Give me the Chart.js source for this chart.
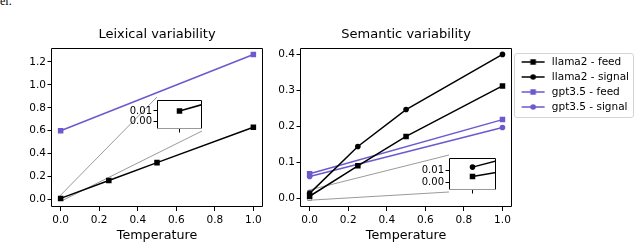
<!DOCTYPE html>
<html>
<head>
<meta charset="utf-8">
<script src="https://cdn.jsdelivr.net/npm/chart.js@4.4.1/dist/chart.umd.min.js"></script>
<style>
body { margin: 0; background: #fff; }
#wrap { position: relative; width: 640px; height: 243px; overflow: hidden; background: #fff; }
canvas { position: absolute; }
#caption { position: absolute; left: 0; top: -5px; font: 12px "Liberation Serif"; line-height: 12px; }
</style>
</head>
<body>
<div id="wrap">
  <div id="caption">el.</div>
  <canvas id="lexChart" width="640" height="243" style="left:0;top:0"></canvas>
  <canvas id="semChart" width="640" height="243" style="left:0;top:0"></canvas>
  <canvas id="lexInset" width="94" height="44" style="left:112px;top:92px"></canvas>
  <canvas id="semInset" width="96" height="47" style="left:404px;top:150px"></canvas>
</div>
<script>
// data
const temps = [0.0, 0.25, 0.5, 1.0];
const gptTemps = [0.0, 1.0];
const xTicks = [0.0, 0.2, 0.4, 0.6, 0.8, 1.0];
const lexTicks = [0.0, 0.2, 0.4, 0.6, 0.8, 1.0, 1.2];
const semTicks = [0.0, 0.1, 0.2, 0.3, 0.4];
const insetTicks = [0.00, 0.01];
const seriesNames = ['llama2 - feed', 'llama2 - signal', 'gpt3.5 - feed', 'gpt3.5 - signal'];

// Leixical variability
const lexLlamaFeed = [0.01, 0.166, 0.322, 0.63];
const lexGptFeed = [0.60, 1.265];

// Semantic variability
const semLlamaFeed = [0.005, 0.09, 0.172, 0.313];
const semLlamaSignal = [0.013, 0.144, 0.247, 0.401];
const semGptFeed = [0.068, 0.219];
const semGptSignal = [0.06, 0.197];

const BLACK = '#000000';
const PURPLE = '#6a5acd';

Chart.defaults.font.family = '"DejaVu Sans", sans-serif';
Chart.defaults.color = '#000';
Chart.defaults.animation = false;

function pts(xs, ys) {
    return xs.map((x, i) => ({ x: x, y: ys[i] }));
}

function series(label, xs, ys, color, marker) {
    return {
        label: label,
        data: pts(xs, ys),
        borderColor: color,
        backgroundColor: color,
        borderWidth: 1.5,
        pointStyle: marker,
        pointRadius: marker === 'rect' ? 3.9 : 2.8,
        pointBorderWidth: 0,
        tension: 0
    };
}

// small picture for the legend: line with marker in the middle
function legendIcon(color, marker) {
    const c = document.createElement('canvas');
    c.width = 30; c.height = 10;
    const g = c.getContext('2d');
    g.strokeStyle = color; g.fillStyle = color; g.lineWidth = 1.5;
    g.beginPath(); g.moveTo(5, 5); g.lineTo(28, 5); g.stroke();
    if (marker === 'rect') {
        g.fillRect(13.75, 2.25, 5.5, 5.5);
    } else {
        g.beginPath(); g.arc(16.5, 5, 2.8, 0, Math.PI * 2); g.fill();
    }
    return c;
}

// box around the plotting area (matplotlib spines)
const framePlugin = {
    id: 'frame',
    beforeDraw(chart, args, opts) {
        if (!opts.fill) return;
        const a = chart.chartArea;
        chart.ctx.save();
        chart.ctx.fillStyle = opts.fill;
        chart.ctx.fillRect(a.left, a.top, a.right - a.left, a.bottom - a.top);
        chart.ctx.restore();
    },
    afterDraw(chart, args, opts) {
        const a = chart.chartArea, ctx = chart.ctx;
        const l = Math.round(a.left) + 0.5, r = Math.round(a.right) - 0.5;
        const t = Math.round(a.top) + 0.5, b = Math.round(a.bottom) - 0.5;
        ctx.save();
        ctx.lineWidth = 1;
        ctx.strokeStyle = BLACK;
        ctx.beginPath();
        ctx.moveTo(l, b); ctx.lineTo(l, t); ctx.lineTo(r, t); ctx.lineTo(r, b);
        ctx.stroke();
        ctx.strokeStyle = opts.bottomColor || BLACK;
        ctx.beginPath(); ctx.moveTo(l, b); ctx.lineTo(r, b); ctx.stroke();
        ctx.restore();
    }
};

// rectangle of the zoomed region + lines to the inset corners
function insetLinks(box, zoom, corners) {
    return {
        id: 'insetLinks',
        beforeDatasetsDraw(chart) {
            const { ctx, scales: { x, y } } = chart;
            const r = {
                left: x.getPixelForValue(zoom.xMin),
                right: x.getPixelForValue(zoom.xMax),
                top: y.getPixelForValue(zoom.yMax),
                bottom: y.getPixelForValue(zoom.yMin)
            };
            ctx.save();
            ctx.strokeStyle = '#808080';
            ctx.lineWidth = 0.8;
            ctx.strokeRect(r.left, r.top, r.right - r.left, r.bottom - r.top);
            ctx.beginPath();
            corners.forEach(([h, v]) => {
                ctx.moveTo(box[h], box[v]);
                ctx.lineTo(r[h], r[v]);
            });
            ctx.stroke();
            ctx.restore();
        }
    };
}

const legendFrame = {
    id: 'legendFrame',
    afterDraw(chart) {
        const lg = chart.legend, hb = lg.legendHitBoxes;
        if (!hb || !hb.length) return;
        const last = hb[hb.length - 1];
        const x0 = lg.left + 1.5, y0 = hb[0].top - 4;
        const y1 = last.top + last.height + 4.5;
        const ctx = chart.ctx;
        ctx.save();
        ctx.strokeStyle = '#d4d4d4';
        ctx.lineWidth = 1;
        ctx.beginPath();
        ctx.roundRect(Math.round(x0) + 0.5, Math.round(y0) + 0.5, 119, Math.round(y1 - y0), 2.5);
        ctx.stroke();
        ctx.restore();
    }
};

const tickFont = { size: 10.5 };

function xScale(min, max, ticks, height, withTitle) {
    return {
        type: 'linear',
        min: min,
        max: max,
        afterBuildTicks: s => { s.ticks = ticks.map(v => ({ value: v })); },
        afterFit: s => { s.height = height; },
        grid: { drawOnChartArea: false, color: BLACK, tickLength: 4 },
        border: { display: false },
        ticks: {
            font: tickFont, padding: 3,
            callback: v => withTitle ? Number(v).toFixed(1) : ''
        },
        title: {
            display: withTitle,
            text: 'Temperature',
            font: { size: 12.7 },
            padding: { top: 0, bottom: 0 }
        }
    };
}

function yScale(min, max, ticks, width, digits, font) {
    return {
        min: min,
        max: max,
        afterBuildTicks: s => { s.ticks = ticks.map(v => ({ value: v })); },
        afterFit: s => { s.width = width; },
        grid: { drawOnChartArea: false, color: BLACK, tickLength: 3.5 },
        border: { display: false },
        ticks: { font: font, padding: 1.5, callback: v => Number(v).toFixed(digits) }
    };
}

function titleOpts(text) {
    return {
        display: true,
        text: text,
        fullSize: false,
        color: BLACK,
        font: { size: 13, weight: 'normal' },
        padding: { top: 27, bottom: 5 }
    };
}

// Leixical variability
const lexBox = { left: 157, top: 97, right: 202, bottom: 131 };
const lexZoom = { xMin: -0.01, xMax: 0.01, yMin: -0.0073, yMax: 0.0213 };

new Chart(document.getElementById('lexChart'), {
    type: 'line',
    data: {
        datasets: [
            series(seriesNames[0], temps, lexLlamaFeed, BLACK, 'rect'),
            series(seriesNames[2], gptTemps, lexGptFeed, PURPLE, 'rect')
        ]
    },
    options: {
        responsive: false,
        devicePixelRatio: 1,
        layout: { padding: { left: 0, right: 377, top: 0, bottom: 0 } },
        scales: {
            x: xScale(-0.05, 1.05, xTicks, 36, true),
            y: yScale(-0.065, 1.325, lexTicks, 51, 1, tickFont)
        },
        plugins: {
            legend: { display: false },
            tooltip: { enabled: false },
            title: titleOpts('Leixical variability')
        }
    },
    plugins: [framePlugin, insetLinks(lexBox, lexZoom, [['left', 'top'], ['right', 'bottom']])]
});

// Semantic variability
const semBox = { left: 449, top: 155, right: 496, bottom: 192 };
const semZoom = { xMin: -0.01, xMax: 0.01, yMin: -0.0063, yMax: 0.0213 };
const icons = [
    legendIcon(BLACK, 'rect'), legendIcon(BLACK, 'circle'),
    legendIcon(PURPLE, 'rect'), legendIcon(PURPLE, 'circle')
];

new Chart(document.getElementById('semChart'), {
    type: 'line',
    data: {
        datasets: [
            series(seriesNames[0], temps, semLlamaFeed, BLACK, 'rect'),
            series(seriesNames[1], temps, semLlamaSignal, BLACK, 'circle'),
            series(seriesNames[2], gptTemps, semGptFeed, PURPLE, 'rect'),
            series(seriesNames[3], gptTemps, semGptSignal, PURPLE, 'circle')
        ]
    },
    options: {
        responsive: false,
        devicePixelRatio: 1,
        layout: { padding: { left: 265, right: 1, top: 0, bottom: 0 } },
        scales: {
            x: xScale(-0.05, 1.05, xTicks, 36, true),
            y: yScale(-0.025, 0.42, semTicks, 35, 1, tickFont)
        },
        plugins: {
            tooltip: { enabled: false },
            title: titleOpts('Semantic variability'),
            legend: {
                position: 'right',
                align: 'start',
                maxWidth: 140,
                title: { display: true, text: '', font: { size: 10 }, padding: { top: 40.25, bottom: 0 } },
                labels: {
                    usePointStyle: true,
                    pointStyleWidth: 30,
                    color: BLACK,
                    font: { size: 10.5 },
                    padding: 4.5,
                    generateLabels: chart =>
                        Chart.defaults.plugins.legend.labels.generateLabels(chart)
                            .map((item, i) => ({ ...item, pointStyle: icons[i] }))
                }
            }
        }
    },
    plugins: [framePlugin, legendFrame, insetLinks(semBox, semZoom, [['left', 'top'], ['left', 'bottom']])]
});

// zoomed insets
function insetChart(id, datasets, zoom, yWidth, right) {
    return new Chart(document.getElementById(id), {
        type: 'line',
        data: { datasets: datasets },
        options: {
            responsive: false,
            devicePixelRatio: 1,
            layout: { padding: { left: 0, right: right, top: 5, bottom: 0 } },
            scales: {
                x: xScale(zoom.xMin, zoom.xMax, [0], 5, false),
                y: yScale(zoom.yMin, zoom.yMax, insetTicks, yWidth, 2, { size: 10 })
            },
            plugins: {
                legend: { display: false },
                tooltip: { enabled: false },
                title: { display: false },
                frame: { fill: '#fff', bottomColor: '#999' }
            }
        },
        plugins: [framePlugin]
    });
}

insetChart('lexInset', [
    series(seriesNames[0], temps, lexLlamaFeed, BLACK, 'rect')
], lexZoom, 45, 4);

insetChart('semInset', [
    series(seriesNames[0], temps, semLlamaFeed, BLACK, 'rect'),
    series(seriesNames[1], temps, semLlamaSignal, BLACK, 'circle')
], semZoom, 45, 4);
</script>
</body>
</html>
